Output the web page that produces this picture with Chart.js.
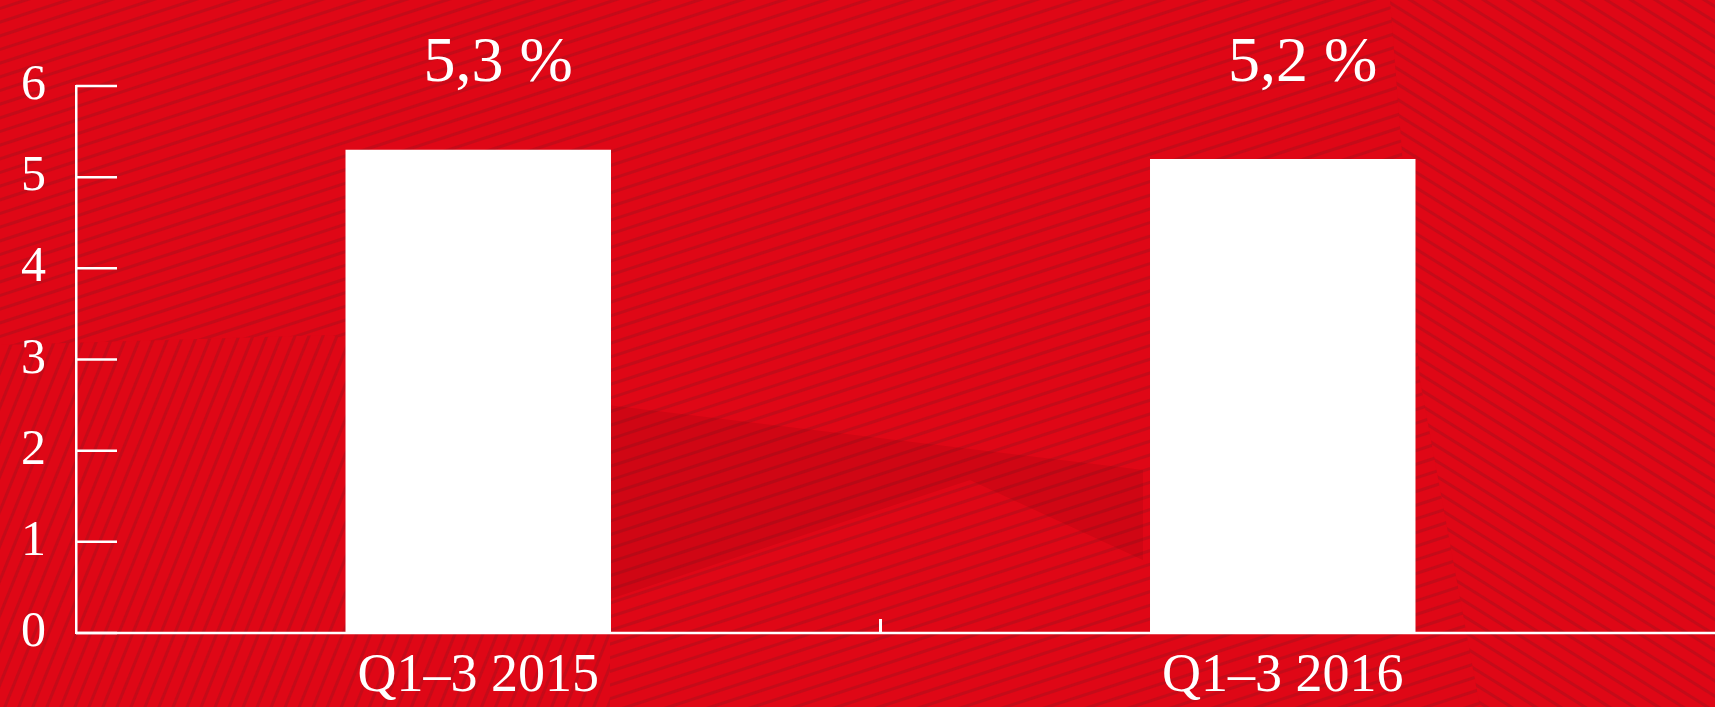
<!DOCTYPE html>
<html>
<head>
<meta charset="utf-8">
<script src="https://cdn.jsdelivr.net/npm/chart.js@4.4.0/dist/chart.umd.min.js"></script>
<style>
html, body { margin: 0; padding: 0; background: #de0716; overflow: hidden; }
#canvas-holder { position: relative; width: 1715px; height: 707px; }
</style>
</head>
<body>
<div id="canvas-holder"><canvas id="graphRate"></canvas></div>
<script>
// values
var periodLabels = ['Q1–3 2015', 'Q1–3 2016'];
var rateValues = [5.3, 5.2];
var yTickValues = [0, 1, 2, 3, 4, 5, 6];

var baseRed = '#df0716';
var stripeRed = 'rgba(165, 18, 28, 0.45)';

function stripes(ctx, poly, angle, gap) {
	ctx.save();
	ctx.beginPath();
	poly.forEach(function(p, i) {
		if (i == 0) ctx.moveTo(p[0], p[1]);
		else ctx.lineTo(p[0], p[1]);
	});
	ctx.closePath();
	ctx.clip();
	ctx.fillStyle = baseRed;
	ctx.fillRect(0, 0, 1715, 707);
	ctx.translate(857, 353);
	ctx.rotate(angle * Math.PI / 180);
	ctx.fillStyle = stripeRed;
	for (var d = -1400; d < 1400; d += gap) {
		ctx.fillRect(-1400, d, 2800, 3);
	}
	ctx.restore();
}

// red striped backdrop
var backdrop = {
	id: 'backdrop',
	beforeDraw: function(chart) {
		var ctx = chart.ctx;
		var w = chart.width, h = chart.height;
		stripes(ctx, [[0, 0], [w, 0], [w, h], [0, h]], -18, 13);
		stripes(ctx, [[0, 345], [330, 335], [610, 400], [610, h], [0, h]], -68, 13);
		stripes(ctx, [[1390, 0], [w, 0], [w, h], [1480, h], [1420, 380]], 32, 13);
		ctx.save();
		ctx.fillStyle = 'rgba(110, 0, 10, 0.13)';
		ctx.beginPath();
		ctx.moveTo(607, 405);
		ctx.lineTo(1143, 470);
		ctx.lineTo(1143, 560);
		ctx.lineTo(970, 480);
		ctx.lineTo(607, 600);
		ctx.closePath();
		ctx.fill();
		ctx.restore();
	}
};

// axis line, inner ticks and value labels
var axisMarks = {
	id: 'axisMarks',
	afterDraw: function(chart) {
		var ctx = chart.ctx;
		var area = chart.chartArea;
		var xScale = chart.scales.x;
		var yScale = chart.scales.y;
		var y0 = yScale.getPixelForValue(0);

		ctx.save();
		ctx.strokeStyle = '#ffffff';
		ctx.lineWidth = 2.5;

		yTickValues.forEach(function(v) {
			var y = yScale.getPixelForValue(v);
			ctx.beginPath();
			ctx.moveTo(area.left, y);
			ctx.lineTo(area.left + 41, y);
			ctx.stroke();
		});

		ctx.beginPath();
		ctx.moveTo(area.left, y0);
		ctx.lineTo(chart.width, y0);
		ctx.stroke();

		var mid = (xScale.getPixelForValue(0) + xScale.getPixelForValue(1)) / 2;
		ctx.lineWidth = 3;
		ctx.beginPath();
		ctx.moveTo(mid, y0);
		ctx.lineTo(mid, y0 - 14);
		ctx.stroke();

		ctx.fillStyle = '#ffffff';
		ctx.font = '64px "Liberation Serif"';
		ctx.textAlign = 'center';
		ctx.textBaseline = 'alphabetic';
		rateValues.forEach(function(v, i) {
			var txt = v.toFixed(1).replace('.', ',') + ' %';
			ctx.fillText(txt, xScale.getPixelForValue(i) + 20, area.top - 5);
		});
		ctx.restore();
	}
};

var ctx = document.getElementById('graphRate').getContext('2d');

var rateChart = new Chart(ctx, {
	type: 'bar',
	data: {
		labels: periodLabels,
		datasets: [{
			data: rateValues,
			backgroundColor: '#ffffff',
			borderWidth: 0,
			barPercentage: 0.33,
			categoryPercentage: 1.0
		}]
	},
	options: {
		responsive: true,
		maintainAspectRatio: false,
		animation: false,
		layout: { padding: { top: 86, left: -9, right: 30, bottom: -6 } },
		plugins: {
			legend: { display: false },
			tooltip: { enabled: false }
		},
		scales: {
			x: {
				grid: { display: false },
				border: { display: false },
				ticks: {
					color: '#ffffff',
					font: { family: 'Liberation Serif', size: 54, lineHeight: 1 },
					padding: 9
				}
			},
			y: {
				min: 0,
				max: 6,
				afterBuildTicks: function(axis) {
					axis.ticks = yTickValues.map(function(v) { return { value: v }; });
				},
				grid: { display: true, drawOnChartArea: false, drawTicks: false },
				border: { display: true, color: '#ffffff', width: 2.5 },
				ticks: {
					color: '#ffffff',
					font: { family: 'Liberation Serif', size: 50 },
					padding: 30
				}
			}
		}
	},
	plugins: [backdrop, axisMarks]
});
</script>
</body>
</html>
